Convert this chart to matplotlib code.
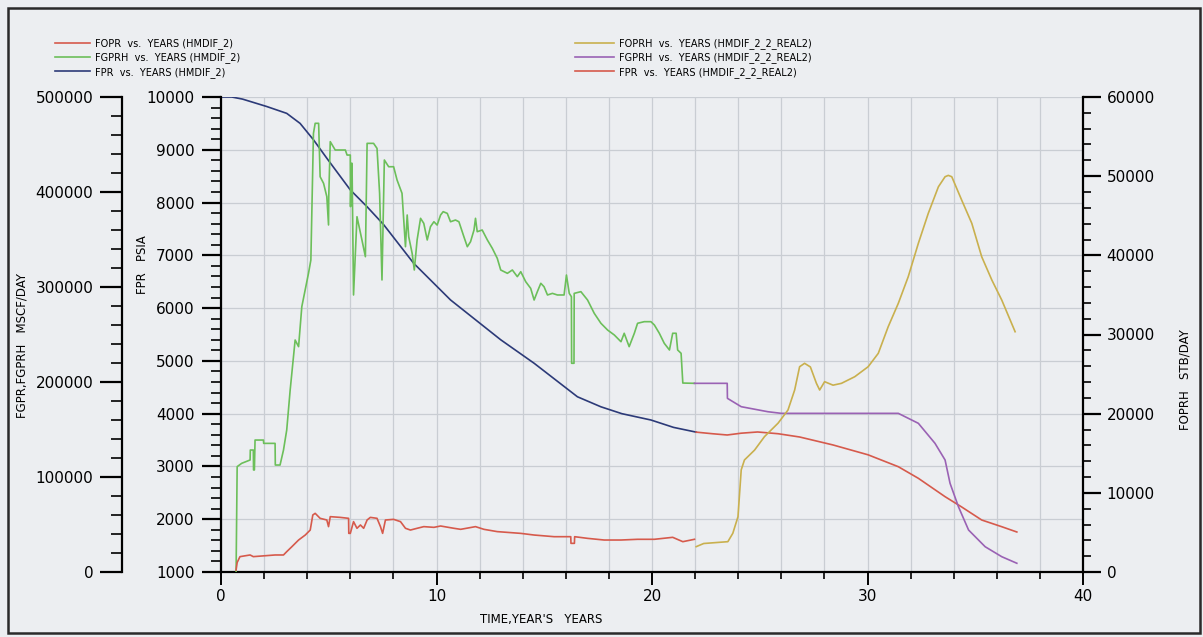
import matplotlib
matplotlib.use("Agg")
import matplotlib.pyplot as plt
from matplotlib.patches import Rectangle
import numpy as np

# FOPR (oil rate, STB/DAY) - HMDIF_2
t_fopr = [0.70, 0.75, 0.88, 1.35, 1.50, 2.51, 2.90, 3.05, 3.29, 3.60, 3.91, 4.14, 4.26, 4.37,
          4.60, 4.91, 4.99, 5.07, 5.53, 5.92, 5.93, 6.00, 6.15, 6.31, 6.47, 6.62, 6.78, 6.93,
          7.24, 7.40, 7.50, 7.63, 8.01, 8.33, 8.56, 8.79, 9.10, 9.41, 9.88, 10.19, 10.81,
          11.12, 11.81, 12.20, 12.82, 13.91, 14.53, 15.46, 16.23, 16.24, 16.40, 16.41, 17.01,
          17.78, 18.56, 19.33, 20.11, 20.96, 21.43, 21.97]
v_fopr = [250, 1200, 1940, 2150, 1940, 2150, 2150, 2570, 3200, 4040, 4670, 5300, 7200, 7410,
          6780, 6570, 5730, 6990, 6900, 6780, 4880, 4880, 6360, 5520, 5940, 5520, 6570, 6900,
          6780, 5730, 4880, 6570, 6650, 6360, 5520, 5300, 5520, 5730, 5640, 5810, 5520,
          5390, 5730, 5390, 5100, 4880, 4670, 4460, 4460, 3620, 3620, 4460, 4250,
          4040, 4040, 4130, 4130, 4380, 3830, 4130]

# FGPRH (gas rate, MSCF/DAY) - HMDIF_2
t_fgprh = [0.70, 0.75, 0.96, 1.35, 1.36, 1.50, 1.51, 1.55, 1.58, 1.97, 1.98, 2.51, 2.52, 2.74,
           2.90, 3.05, 3.21, 3.44, 3.60, 3.75, 4.06, 4.17, 4.29, 4.37, 4.53, 4.60, 4.76, 4.91,
           4.99, 5.00, 5.07, 5.30, 5.77, 5.85, 6.00, 6.01, 6.05, 6.08, 6.15, 6.31, 6.54, 6.70,
           6.78, 7.08, 7.24, 7.36, 7.47, 7.58, 7.78, 8.01, 8.17, 8.40, 8.56, 8.64, 8.71, 8.87,
           8.97, 9.10, 9.26, 9.41, 9.57, 9.72, 9.88, 10.03, 10.19, 10.31, 10.50, 10.65, 10.88,
           11.04, 11.27, 11.43, 11.58, 11.74, 11.81, 11.89, 12.12, 12.36, 12.59, 12.82, 12.98,
           13.29, 13.52, 13.75, 13.91, 14.14, 14.37, 14.53, 14.68, 14.84, 14.99, 15.15, 15.38,
           15.61, 15.92, 16.03, 16.16, 16.26, 16.27, 16.38, 16.39, 16.70, 17.01, 17.32, 17.63,
           17.94, 18.25, 18.56, 18.71, 18.94, 19.18, 19.33, 19.64, 19.95, 20.11, 20.34, 20.57,
           20.81, 20.96, 21.12, 21.19, 21.35, 21.43, 21.97]
v_fgprh = [0, 110900, 114400, 117900, 128400, 128400, 107400, 107400, 138900, 138900, 135400,
           135400, 112600, 112600, 128400, 149500, 191600, 244200, 237200, 279300, 314400,
           328400, 461700, 472300, 472300, 416100, 409100, 395100, 365300, 395100, 453000,
           444200, 444200, 438900, 438900, 384600, 430200, 430200, 291600, 374000, 349500,
           331900, 451200, 451200, 445900, 398600, 307400, 433700, 426600, 426600, 412600,
           398600, 342400, 375800, 353000, 335400, 317900, 349500, 372300, 367000, 349500,
           363500, 368700, 365200, 375800, 379300, 377500, 368700, 370500, 368700, 353000,
           342400, 347700, 360000, 372300, 358200, 360000, 349500, 340700, 330200, 317900,
           314400, 317900, 310900, 316100, 305600, 298600, 286300, 295100, 303900, 300300,
           291600, 293300, 291600, 291600, 312600, 293300, 289800, 219700, 219700, 293300,
           295100, 286300, 272300, 261800, 254700, 249500, 242400, 251300, 237200, 251300,
           261800, 263500, 263500, 260000, 251300, 240700, 233700, 251300, 251300, 233700,
           230200, 198900, 198600]

# FPR (field pressure, PSIA) - HMDIF_2
t_fpr = [0, 0.5, 1.0, 2.12, 3.05, 3.67, 4.29, 4.91, 6.0, 6.78, 7.55, 8.94, 10.65, 12.98,
         14.53, 16.54, 17.63, 18.6, 19.95, 21.0, 22.05]
v_fpr = [10000, 10000, 9960, 9820, 9690, 9500, 9190, 8840, 8240, 7920, 7580, 6850, 6155, 5400,
         4955, 4320, 4130, 4000, 3880, 3740, 3650]

# FOPRH (oil rate, STB/DAY) - HMDIF_2_2_REAL2
t_fopr2 = [22.05, 22.40, 23.52, 23.75, 23.99, 24.14, 24.29, 24.76, 25.22, 25.85, 26.31, 26.62,
           26.85, 27.08, 27.35, 27.63, 27.78, 28.01, 28.40, 28.79, 29.41, 30.03, 30.50, 30.96,
           31.43, 31.89, 32.36, 32.82, 33.29, 33.60, 33.75, 33.91, 34.37, 34.84, 35.30, 35.77,
           36.23, 36.85]
v_fopr2 = [3200, 3600, 3830, 4890, 6990, 12900, 14150, 15400, 17100, 18800, 20460, 22990,
           25930, 26360, 25900, 23830, 22990, 24040, 23600, 23830, 24670, 25930, 27620, 30980,
           33940, 37300, 41520, 45300, 48660, 49930, 50100, 49930, 46980, 44040, 39820, 36880,
           34350, 30350]

# FGPRH (gas rate, MSCF/DAY) - HMDIF_2_2_REAL2
t_fgpr2 = [21.97, 23.49, 23.50, 24.14, 25.38, 26.0, 31.43, 32.36, 33.13, 33.60, 33.83, 34.22,
           34.69, 35.46, 36.23, 36.93]
v_fgpr2 = [198600, 198600, 182800, 174000, 168700, 167000, 167000, 156500, 135500, 117900,
           93400, 68700, 44200, 26600, 16100, 9200]

# FPR (PSIA) - HMDIF_2_2_REAL2
t_fpr2 = [22.05, 22.8, 23.49, 24.14, 24.9, 25.85, 26.85, 28.4, 30.03, 31.43, 32.36, 33.6,
          34.37, 35.3, 36.23, 36.93]
v_fpr2 = [3650, 3620, 3596, 3630, 3653, 3620, 3558, 3407, 3220, 2995, 2775, 2427, 2232, 1985,
          1858, 1758]

legend_left = ["FOPR  vs.  YEARS (HMDIF_2)", "FGPRH  vs.  YEARS (HMDIF_2)",
               "FPR  vs.  YEARS (HMDIF_2)"]
legend_right = ["FOPRH  vs.  YEARS (HMDIF_2_2_REAL2)", "FGPRH  vs.  YEARS (HMDIF_2_2_REAL2)",
                "FPR  vs.  YEARS (HMDIF_2_2_REAL2)"]

c_red = "#d65a4c"
c_green = "#6cbf5a"
c_blue = "#2c3a78"
c_yellow = "#c9b04e"
c_purple = "#9a62b4"
bg = "#eceef1"

W, H = 1203, 637
fig = plt.figure(figsize=(W / 100, H / 100), dpi=100, facecolor=bg)
L, R, T, B = 221, 1083, 97, 572
ax = fig.add_axes([L / W, 1 - B / H, (R - L) / W, (B - T) / H])
ax.set_facecolor("none")

ax.set_xlim(0, 40)
ax.set_ylim(1000, 10000)
ax.set_xticks(np.arange(0, 41, 10))
ax.set_xticks(np.arange(0, 41, 2), minor=True)
ax.set_yticks(np.arange(1000, 10001, 1000))
ax.set_yticks(np.arange(1000, 10001, 200), minor=True)
ax.grid(True, which="both", axis="x", color="#c9cdd3", lw=0.9)
ax.grid(True, which="major", axis="y", color="#c9cdd3", lw=0.9)
ax.set_axisbelow(True)
for s in ["top", "right"]:
    ax.spines[s].set_visible(False)
for s in ["left", "bottom"]:
    ax.spines[s].set_linewidth(1.6)
ax.tick_params(axis="y", which="major", length=14, width=1.6, pad=5, labelsize=11)
ax.tick_params(axis="y", which="minor", length=7, width=1.2)
ax.tick_params(axis="x", which="major", length=9, width=1.4, pad=3, labelsize=11)
ax.tick_params(axis="x", which="minor", length=5, width=1.2)

# gas rate axis, offset to the far left
axg = ax.twinx()
axg.set_ylim(0, 500000)
axg.yaxis.set_ticks_position("left")
axg.spines["left"].set_position(("outward", 71))
axg.spines["left"].set_visible(True)
axg.spines["left"].set_linewidth(1.6)
for s in ["top", "right", "bottom"]:
    axg.spines[s].set_visible(False)
axg.set_yticks(np.arange(0, 500001, 100000))
axg.set_yticks(np.arange(0, 500001, 20000), minor=True)
axg.tick_params(axis="y", which="major", length=16, width=1.6, pad=5, labelsize=11)
axg.tick_params(axis="y", which="minor", length=8, width=1.2)

# oil rate axis on the right
axo = ax.twinx()
axo.set_ylim(0, 60000)
for s in ["top", "left", "bottom"]:
    axo.spines[s].set_visible(False)
axo.spines["right"].set_linewidth(1.6)
axo.set_yticks(np.arange(0, 60001, 10000))
axo.set_yticks(np.arange(0, 60001, 2000), minor=True)
axo.tick_params(axis="y", which="major", length=13, width=1.6, pad=4, labelsize=11)
axo.tick_params(axis="y", which="minor", length=6, width=1.2)

lw = 1.2
h_fpr, = ax.plot(t_fpr, v_fpr, color=c_blue, lw=lw)
h_fpr2, = ax.plot(t_fpr2, v_fpr2, color=c_red, lw=lw)
h_fgprh, = axg.plot(t_fgprh, v_fgprh, color=c_green, lw=lw)
h_fgpr2, = axg.plot(t_fgpr2, v_fgpr2, color=c_purple, lw=lw)
h_fopr, = axo.plot(t_fopr, v_fopr, color=c_red, lw=lw)
h_fopr2, = axo.plot(t_fopr2, v_fopr2, color=c_yellow, lw=lw)

leg_kw = dict(frameon=False, fontsize=7, borderpad=0, borderaxespad=0,
              labelspacing=0.35, handletextpad=0.5, loc="upper left")
fig.legend([h_fopr, h_fgprh, h_fpr], legend_left, handlelength=3.6,
           bbox_to_anchor=(55 / W, 1 - 38 / H), **leg_kw)
fig.legend([h_fopr2, h_fgpr2, h_fpr2], legend_right, handlelength=4.0,
           bbox_to_anchor=(575 / W, 1 - 38 / H), **leg_kw)

fig.text(22 / W, 1 - 345 / H, "FGPR,FGPRH   MSCF/DAY", rotation=90, fontsize=8.5,
         ha="center", va="center")
fig.text(142 / W, 1 - 265 / H, "FPR   PSIA", rotation=90, fontsize=8.5,
         ha="center", va="center")
fig.text(1185 / W, 1 - 380 / H, "FOPRH   STB/DAY", rotation=90, fontsize=8.5,
         ha="center", va="center")
fig.text(541 / W, 1 - 620 / H, "TIME,YEAR'S   YEARS", fontsize=8.5, ha="center", va="center")

fig.patches.append(Rectangle((8 / W, 1 - 633 / H), 1192 / W, 625 / H, transform=fig.transFigure,
                             fill=False, edgecolor="#2a2a2a", lw=1.8))

fig.savefig("out.png", dpi=100, facecolor=bg)
